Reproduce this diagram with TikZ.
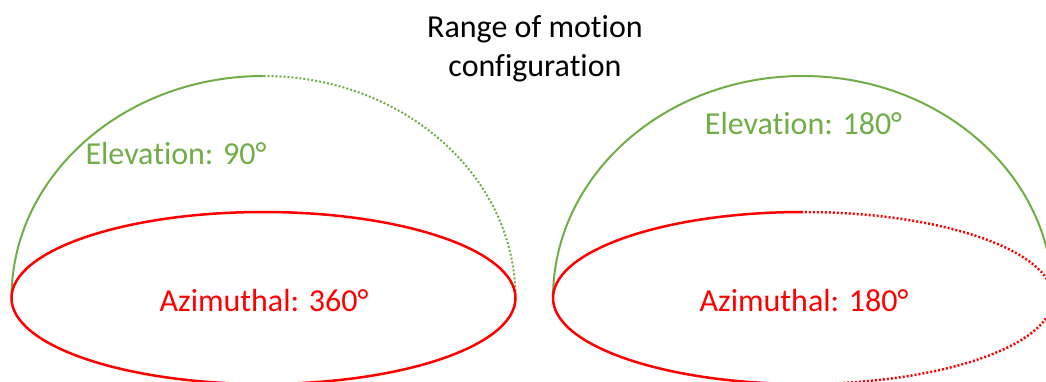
\documentclass[tikz,border=0pt]{standalone}
\usepackage{fontspec}
\setmainfont{Carlito}[Ligatures={NoCommon}]
\definecolor{elevgreen}{RGB}{112,173,71}
\definecolor{azred}{RGB}{255,0,0}
\tikzset{
  elev/.style={draw=elevgreen, line width=2pt},
  azim/.style={draw=azred, line width=2.5pt},
  dots/.style={dash pattern=on 2pt off 2pt},
  lbl/.style={font=\fontsize{32}{39}\selectfont, inner sep=0pt, anchor=center},
}
\begin{document}
\begin{tikzpicture}[x=1pt,y=1pt]
\useasboundingbox (0,0) rectangle (1046,381);
\clip (0,0) rectangle (1046,381);
% left configuration
\draw[elev] (11.5,83) arc[start angle=180,end angle=90,x radius=252,y radius=222];
\draw[elev,dots] (263.5,305) arc[start angle=90,end angle=0,x radius=252,y radius=222];
\draw[azim] (263.5,83) ellipse[x radius=252,y radius=86];
% right configuration
\draw[elev] (553,83) arc[start angle=180,end angle=0,x radius=250,y radius=222];
\draw[azim] (803,169) arc[start angle=90,end angle=270,x radius=250,y radius=86];
\draw[azim,dots] (803,-3) arc[start angle=270,end angle=450,x radius=250,y radius=86];
% texts
\node[lbl, align=center] (title) at (535,332) {Range of motion\\configuration};
\node[lbl, text=elevgreen] (elev1) at (176,227.5) {Elevation: 90°};
\node[lbl, text=azred] (azim1) at (264,80.5) {Azimuthal: 360°};
\node[lbl, text=elevgreen] (elev2) at (803.5,257) {Elevation: 180°};
\node[lbl, text=azred] (azim2) at (804,80.5) {Azimuthal: 180°};
\end{tikzpicture}
\end{document}
